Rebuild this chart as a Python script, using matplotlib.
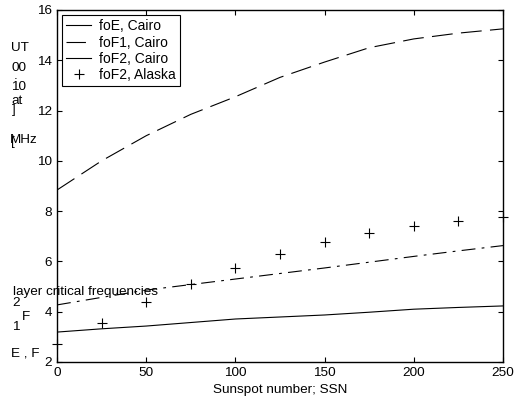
import matplotlib
matplotlib.use("Agg")
import matplotlib.pyplot as plt
from matplotlib.lines import Line2D

# sunspot number samples
ssn = [0, 25, 50, 75, 100, 125, 150, 175, 200, 225, 250]

# critical frequencies, MHz
foe_cairo = [3.19, 3.32, 3.43, 3.57, 3.71, 3.79, 3.87, 3.98, 4.10, 4.17, 4.23]
fof1_cairo = [4.27, 4.57, 4.86, 5.08, 5.30, 5.52, 5.74, 5.97, 6.20, 6.42, 6.63]
fof2_cairo = [8.84, 10.0, 11.0, 11.85, 12.55, 13.32, 13.93, 14.5, 14.85, 15.08, 15.25]
fof2_alaska = [2.72, 3.56, 4.40, 5.10, 5.73, 6.28, 6.76, 7.14, 7.42, 7.62, 7.78]

legend_labels = ["foE, Cairo", "foF1, Cairo", "foF2, Cairo", "foF2, Alaska"]

# broken (unrotated) y label pieces as they appear in the picture: text, x px, y px
ylabel_pieces = [
    ("UT", 11, 48), ("00", 11, 68), (".", 14, 76), ("10", 11, 87),
    ("at", 11, 101), ("]", 12, 110), ("[", 11, 142), ("MHz", 10, 140),
    ("layer critical frequencies", 13, 292), ("2", 12, 303),
    ("F", 22, 317), ("1", 12, 327), ("E , F", 11, 353),
]

W, H = 514, 400
FS = 9.7

plt.rcParams["font.family"] = ["Liberation Sans", "DejaVu Sans"]
plt.rcParams["lines.scale_dashes"] = False

fig = plt.figure(figsize=(W / 100, H / 100), dpi=100)
ax = fig.add_axes([57 / W, 1 - 362 / H, (503 - 57) / W, (362 - 10) / H])

lw = 0.8
ax.plot(ssn, foe_cairo, color="black", lw=lw, ls="-")
ax.plot(ssn, fof1_cairo, color="black", lw=lw, dashes=(10, 4.5, 2, 4.5))
ax.plot(ssn, fof2_cairo, color="black", lw=lw, dashes=(15, 6))
ax.plot(ssn, fof2_alaska, ls="none", marker="+", ms=6.5, mew=0.8,
        color="black", clip_on=False)

ax.set_xlim(0, 250)
ax.set_ylim(2, 16)
ax.set_xticks(range(0, 251, 50))
ax.set_yticks(range(2, 17, 2))
ax.tick_params(direction="in", length=3.5, width=0.8, top=True, right=True,
               labelsize=FS, pad=3.5)
for sp in ax.spines.values():
    sp.set_linewidth(1.0)

ax.set_xlabel("Sunspot number; SSN", fontsize=FS, labelpad=3.5)

handles = [
    Line2D([], [], color="black", lw=lw, ls="-"),
    Line2D([], [], color="black", lw=lw, dashes=(14, 4.5, 2, 4.5)),
    Line2D([], [], color="black", lw=lw, ls="-"),
    Line2D([], [], color="black", ls="none", marker="+", ms=6.5, mew=0.8),
]
leg = ax.legend(handles, legend_labels, loc="upper left",
                bbox_to_anchor=(5 / 446, 1 - 5 / 352), borderaxespad=0,
                fontsize=10, handlelength=1.8, handletextpad=0.55,
                labelspacing=0.17, borderpad=0.3, fancybox=False,
                framealpha=1, edgecolor="black")
leg.get_frame().set_linewidth(0.8)

for txt, px, py in ylabel_pieces:
    fig.text(px / W, 1 - py / H, txt, fontsize=FS, ha="left", va="center")

fig.savefig("out.png", dpi=100)
